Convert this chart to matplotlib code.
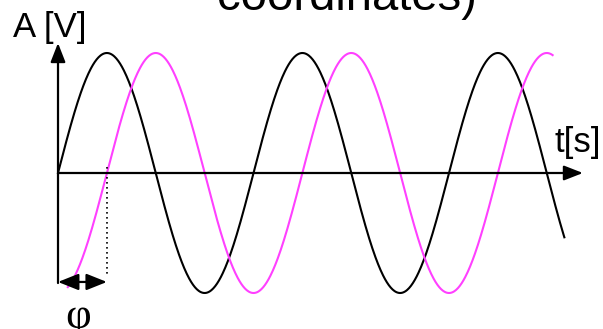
import matplotlib
matplotlib.use("Agg")
import matplotlib.pyplot as plt
import numpy as np

# signal parameters (time in periods, amplitude in volts)
period = 1.0
amplitude = 1.0
phase_shift = 0.25          # shifted signal lags by a quarter period
ref_span = [0.0, 2.59]      # black (reference) signal
shifted_span = [0.05, 2.53] # magenta (shifted) signal

# axis extents
t_axis_end = 2.685
a_axis_top = 1.083
a_axis_bottom = -0.917

# labels
ylabel = "A [V]"
xlabel = "t[s]"
title_tail = "coordinates)"
phi_label = "φ"

ref_color = "black"
shifted_color = "#ff40ff"

fig = plt.figure(figsize=(6.03, 3.29), dpi=100)
ax = fig.add_axes([0, 0, 1, 1])
ax.set_xlim(-0.2967, 2.7877)
ax.set_ylim(-1.3, 1.4417)
ax.axis("off")

# curves
t1 = np.linspace(ref_span[0], ref_span[1], 800)
t2 = np.linspace(shifted_span[0], shifted_span[1], 800)
ax.plot(t1, amplitude * np.sin(2 * np.pi * t1 / period), color=ref_color, lw=1.5)
ax.plot(t2, amplitude * np.sin(2 * np.pi * (t2 - phase_shift * period) / period),
        color=shifted_color, lw=1.5)

# axes with arrows
arr = dict(arrowstyle="-|>,head_length=1.15,head_width=0.45", mutation_scale=10,
           lw=1.6, color="black", shrinkA=0, shrinkB=0)
ax.annotate("", xy=(0, a_axis_top), xytext=(0, a_axis_bottom), arrowprops=arr)
ax.annotate("", xy=(t_axis_end, 0), xytext=(0, 0), arrowprops=arr)

# phase marker
ax.plot([phase_shift, phase_shift], [0.05, -0.87], color="black", lw=1.2,
        linestyle=(0, (1, 2)))
darr = dict(arrowstyle="<|-|>,head_length=1.25,head_width=0.5", mutation_scale=10,
            lw=1.6, color="black", shrinkA=0, shrinkB=0)
ax.annotate("", xy=(phase_shift, -0.908), xytext=(0, -0.908), arrowprops=darr)

# texts
ax.text(-0.230, 1.133, ylabel, fontsize=25, family="Liberation Sans",
        ha="left", va="baseline")
ax.text(2.542, 0.175, xlabel, fontsize=25, family="Liberation Sans",
        ha="left", va="baseline")
ax.text(0.813, 1.358, title_tail, fontsize=34, family="Liberation Sans",
        ha="left", va="baseline")
ax.text(0.105, -1.295, phi_label, fontsize=32, family="Liberation Serif",
        ha="center", va="baseline")

fig.savefig("out.png", dpi=100)
